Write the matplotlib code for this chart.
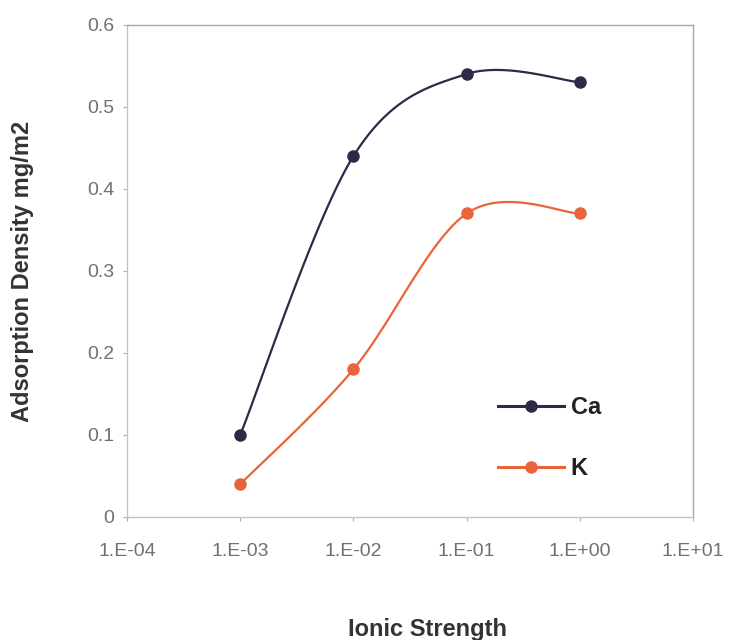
import numpy as np
import matplotlib
matplotlib.use('Agg')
import matplotlib.pyplot as plt

plt.rcParams['font.family'] = ['Liberation Sans', 'DejaVu Sans']

ionic_strength = [1e-3, 1e-2, 1e-1, 1e0]
ca_density = [0.10, 0.44, 0.54, 0.53]
k_density = [0.04, 0.18, 0.37, 0.37]
x_tick_values = [1e-4, 1e-3, 1e-2, 1e-1, 1e0, 1e1]
x_tick_labels = ['1.E-04', '1.E-03', '1.E-02', '1.E-01', '1.E+00', '1.E+01']
y_tick_values = [0, 0.1, 0.2, 0.3, 0.4, 0.5, 0.6]
y_tick_labels = ['0', '0.1', '0.2', '0.3', '0.4', '0.5', '0.6']

ca_color = '#2b2b48'
k_color = '#e8643a'

# screen-ish scale factors so the smoothing behaves like a spreadsheet
SX = 113.0
SY = 820.0


def smooth_curve(xs, ys, n=40):
    # bezier smoothing through the points (tension 1/6), done in screen space
    u = np.log10(xs) * SX
    v = np.asarray(ys) * SY
    pts = np.column_stack([u, v])
    out = []
    for i in range(len(pts) - 1):
        p0 = pts[i - 1] if i > 0 else pts[i]
        p1 = pts[i]
        p2 = pts[i + 1]
        p3 = pts[i + 2] if i + 2 < len(pts) else pts[i + 1]
        c1 = p1 + (p2 - p0) / 6.0
        c2 = p2 - (p3 - p1) / 6.0
        t = np.linspace(0, 1, n)[:, None]
        seg = ((1 - t) ** 3 * p1 + 3 * (1 - t) ** 2 * t * c1
               + 3 * (1 - t) * t ** 2 * c2 + t ** 3 * p2)
        out.append(seg if i == 0 else seg[1:])
    seg = np.vstack(out)
    return 10 ** (seg[:, 0] / SX), seg[:, 1] / SY


fig = plt.figure(figsize=(7.36, 6.4), dpi=100)
ax = fig.add_axes([0.1726, 0.1922, 0.769, 0.769])

for ys, color, name in [(ca_density, ca_color, 'Ca'), (k_density, k_color, 'K')]:
    sx, sy = smooth_curve(ionic_strength, ys)
    ax.plot(sx, sy, color=color, lw=1.6, zorder=2)
    ax.plot(ionic_strength, ys, 'o', color=color, ms=8, zorder=3)
    ax.plot([], [], '-o', color=color, lw=2.2, ms=8, label=name)

ax.set_xscale('log')
ax.set_xlim(1e-4, 1e1)
ax.set_ylim(0, 0.6)
ax.set_xticks(x_tick_values)
ax.set_xticklabels(x_tick_labels)
ax.minorticks_off()
ax.set_yticks(y_tick_values)
ax.set_yticklabels(y_tick_labels)

ax.tick_params(axis='both', direction='out', length=3, width=0.8,
               color='#b0b0b0', labelcolor='#707070', labelsize=14)
ax.tick_params(axis='x', pad=16)
ax.tick_params(axis='y', pad=6)
for side in ['left', 'bottom']:
    ax.spines[side].set_color('#c4c4c4')
    ax.spines[side].set_linewidth(1.0)
for side in ['top', 'right']:
    ax.spines[side].set_color('#a8a8a8')
    ax.spines[side].set_linewidth(1.0)

ax.set_ylabel('Adsorption Density mg/m2', fontsize=17, fontweight='bold',
              color='#333333')
ax.yaxis.set_label_coords(-0.165, 0.5)
ax.set_xlabel('Ionic Strength', fontsize=17, fontweight='bold',
              color='#333333')
ax.xaxis.set_label_coords(0.53, -0.205)

leg = ax.legend(loc='lower right', bbox_to_anchor=(0.875, 0.032), frameon=False,
                handlelength=2.8, labelspacing=1.6, handletextpad=0.3,
                prop={'weight': 'bold', 'size': 17})
for t in leg.get_texts():
    t.set_color('#222222')

fig.savefig('out.png', dpi=100)
